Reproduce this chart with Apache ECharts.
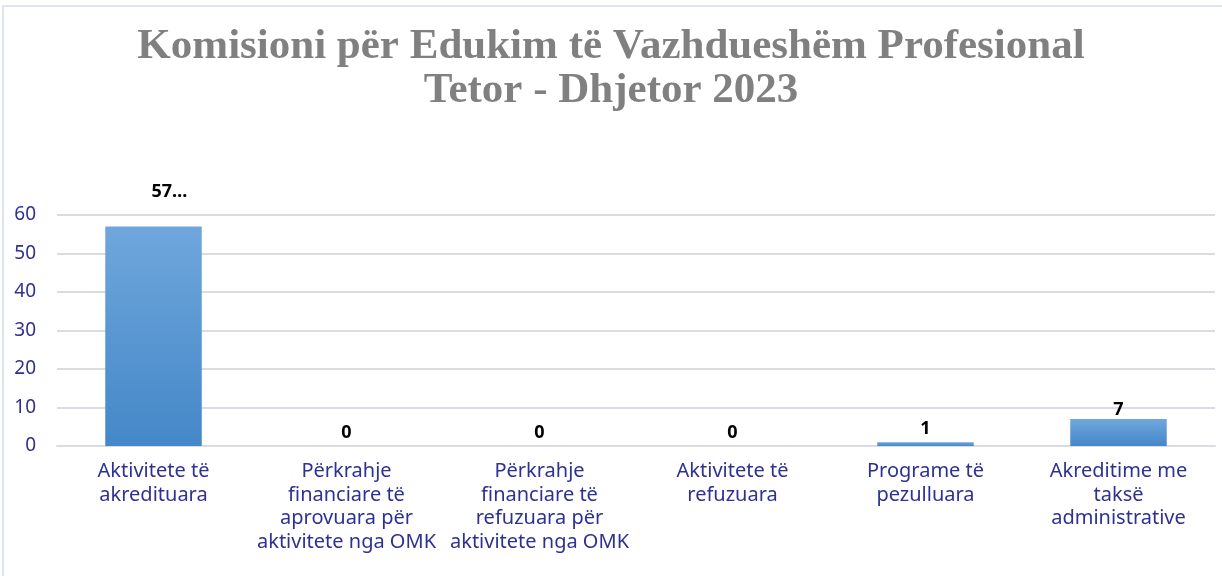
<!DOCTYPE html>
<html>
<head>
<meta charset="utf-8">
<script src="https://cdn.jsdelivr.net/npm/echarts@6/dist/echarts.min.js"></script>
<style>
  html, body { margin: 0; padding: 0; background: #fff; }
  #chart { position: absolute; left: 0; top: 0; width: 1222px; height: 576px; }
</style>
</head>
<body>
<div id="chart"></div>
<script>
// Category names, with line breaks as in the original
const categories = [
  "Aktivitete të\nakredituara",
  "Përkrahje\nfinanciare të\naprovuara për\naktivitete nga OMK",
  "Përkrahje\nfinanciare të\nrefuzuara për\naktivitete nga OMK",
  "Aktivitete të\nrefuzuara",
  "Programe të\npezulluara",
  "Akreditime me\ntaksë\nadministrative",
]
const values = [57, 0, 0, 0, 1, 7]
// data labels as shown (the first one is truncated in the source)
const valueLabels = ["57…", "0", "0", "0", "1", "7"]

const chart = echarts.init(document.getElementById("chart"))

const labelFont = { fontFamily: "Noto Sans", fontWeight: "bold", fontSize: 18, color: "#000" }

chart.setOption({
  animation: false,
  title: {
    text: "Komisioni për Edukim të Vazhdueshëm Profesional\nTetor - Dhjetor 2023",
    left: "center",
    top: 20,
    textStyle: {
      fontFamily: "Liberation Serif",
      fontWeight: "bold",
      fontSize: 43,
      lineHeight: 44,
      color: "#808080",
    },
  },
  grid: { left: 57, right: 7, top: 215, bottom: 130 },
  xAxis: {
    type: "category",
    data: categories,
    axisTick: { show: false },
    axisLine: { lineStyle: { color: "#d9dde3", width: 2 } },
    axisLabel: {
      interval: 0,
      margin: 14,
      fontFamily: "Noto Sans",
      fontSize: 20,
      lineHeight: 23.5,
      color: "#2e3192",
    },
  },
  yAxis: {
    type: "value",
    min: 0,
    max: 60,
    interval: 10,
    axisLabel: {
      margin: 21,
      fontFamily: "Noto Sans",
      fontSize: 19,
      color: "#2e3192",
    },
    splitLine: { lineStyle: { color: "#d9dde3", width: 2 } },
  },
  series: [
    {
      type: "bar",
      data: values.map((v, i) => ({
        value: v,
        label:
          i === 0
            ? { distance: 0, offset: [16, -26] }
            : { distance: i === 5 ? 0 : 4 },
      })),
      barWidth: "50%",
      itemStyle: {
        color: new echarts.graphic.LinearGradient(0, 0, 0, 1, [
          { offset: 0, color: "#6fa7dc" },
          { offset: 1, color: "#4487c8" },
        ]),
      },
      label: {
        show: true,
        position: "top",
        ...labelFont,
        formatter: (p) => valueLabels[p.dataIndex],
      },
    },
  ],
  graphic: [
    {
      type: "polyline",
      shape: { points: [[3, 576], [3, 6], [1222, 6]] },
      style: { stroke: "#dfe5ec", lineWidth: 2, fill: null },
    },
  ],
})
</script>
</body>
</html>
